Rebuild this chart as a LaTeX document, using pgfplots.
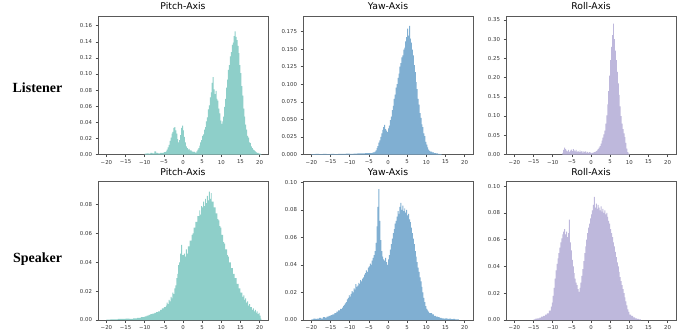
\documentclass[border=0pt]{standalone}
\usepackage{pgfplots}
\pgfplotsset{compat=1.18}
\usepackage{pgfplotstable}
\usepackage{fontspec}
\setmainfont{DejaVu Sans}
\newfontfamily\rowfont{Liberation Serif}
\definecolor{cpitch}{RGB}{142,207,201}
\definecolor{cyaw}{RGB}{128,175,210}
\definecolor{croll}{RGB}{190,184,220}

% Listener Pitch
\pgfplotstableread{
x y
-10 0.001
-9.5 0.0015
-9 0.001
-8.5 0.002
-8 0.0015
-7.5 0.004
-7 0.002
-6.5 0.0015
-6 0.002
-5.5 0.002
-5 0.003
-4.5 0.004
-4.25 0.006
-4.0 0.009
-3.75 0.012
-3.5 0.017
-3.25 0.021
-3.0 0.026
-2.75 0.028
-2.5 0.033
-2.25 0.034
-2.0 0.030
-1.75 0.026
-1.5 0.019
-1.25 0.015
-1.0 0.018
-0.75 0.024
-0.5 0.033
-0.25 0.036
0.0 0.030
0.25 0.022
0.5 0.015
0.75 0.010
1.0 0.008
1.25 0.006
1.5 0.007
1.75 0.005
2.0 0.005
2.25 0.004
2.5 0.003
2.75 0.004
3.0 0.003
3.25 0.002
3.5 0.004
3.75 0.006
4.0 0.008
4.25 0.011
4.5 0.015
4.75 0.018
5.0 0.023
5.25 0.025
5.5 0.031
5.75 0.034
6.0 0.041
6.25 0.046
6.5 0.056
6.75 0.061
7.0 0.071
7.25 0.077
7.5 0.089
7.75 0.096
8.0 0.081
8.25 0.075
8.5 0.079
8.75 0.069
9.0 0.067
9.25 0.057
9.5 0.051
9.75 0.042
10.0 0.038
10.25 0.041
10.5 0.047
10.75 0.059
11.0 0.069
11.25 0.083
11.5 0.093
11.75 0.105
12.0 0.111
12.25 0.122
12.5 0.127
12.75 0.136
13.0 0.139
13.25 0.147
13.5 0.153
13.75 0.146
14.0 0.142
14.25 0.135
14.5 0.126
14.75 0.111
15.0 0.101
15.25 0.085
15.5 0.073
15.75 0.057
16.0 0.047
16.25 0.037
16.5 0.031
16.75 0.023
17.0 0.021
17.25 0.015
17.5 0.014
17.75 0.010
18.0 0.008
18.25 0.006
18.5 0.005
18.75 0.004
19.0 0.003
19.25 0.002
19.5 0.002
19.75 0.001
20.0 0.001
20.25 0.0005
20.5 0
}\tLP

% Listener Yaw
\pgfplotstableread{
x y
-20 0.0005
-19 0.0008
-18 0.0005
-17 0.0008
-16 0.0006
-15 0.0008
-14 0.0006
-13 0.001
-12 0.0008
-11 0.0012
-10 0.001
-9 0.0012
-8 0.0015
-7 0.0015
-6 0.002
-5 0.002
-4 0.003
-3.5 0.004
-3.25 0.006
-3.0 0.009
-2.75 0.012
-2.5 0.017
-2.25 0.020
-2.0 0.025
-1.75 0.030
-1.5 0.035
-1.25 0.039
-1.0 0.042
-0.75 0.036
-0.5 0.034
-0.25 0.032
0.0 0.037
0.25 0.041
0.5 0.049
0.75 0.054
1.0 0.063
1.25 0.069
1.5 0.079
1.75 0.085
2.0 0.095
2.25 0.100
2.5 0.109
2.75 0.115
3.0 0.125
3.25 0.130
3.5 0.138
3.75 0.141
4.0 0.149
4.25 0.152
4.5 0.161
4.75 0.167
5.0 0.179
5.25 0.169
5.5 0.183
5.75 0.165
6.0 0.159
6.25 0.149
6.5 0.141
6.75 0.127
7.0 0.117
7.25 0.103
7.5 0.093
7.75 0.079
8.0 0.071
8.25 0.059
8.5 0.052
8.75 0.043
9.0 0.039
9.25 0.030
9.5 0.026
9.75 0.018
10.0 0.014
10.25 0.010
10.5 0.007
10.75 0.005
11.0 0.004
11.5 0.003
12.0 0.002
12.5 0.0015
13.0 0.001
13.5 0.0005
14.0 0
}\tLY

% Listener Roll
\pgfplotstableread{
x y
-7.5 0.004
-7.25 0.012
-7.0 0.018
-6.75 0.014
-6.5 0.010
-6.25 0.008
-6.0 0.012
-5.75 0.007
-5.5 0.010
-5.25 0.013
-5.0 0.009
-4.75 0.014
-4.5 0.011
-4.25 0.008
-4.0 0.012
-3.75 0.007
-3.5 0.009
-3.25 0.006
-3.0 0.011
-2.75 0.007
-2.5 0.009
-2.25 0.005
-2.0 0.008
-1.75 0.006
-1.5 0.009
-1.25 0.005
-1.0 0.007
-0.75 0.004
-0.5 0.006
-0.25 0.005
0.0 0.003
0.25 0.004
0.5 0.005
0.75 0.006
1.0 0.007
1.25 0.009
1.5 0.011
1.75 0.014
2.0 0.018
2.25 0.022
2.5 0.028
2.75 0.036
3.0 0.044
3.25 0.052
3.5 0.062
3.75 0.080
4.0 0.102
4.25 0.130
4.5 0.165
4.75 0.205
5.0 0.245
5.25 0.280
5.5 0.310
5.75 0.340
6.0 0.300
6.25 0.270
6.5 0.245
6.75 0.215
7.0 0.185
7.25 0.155
7.5 0.125
7.75 0.100
8.0 0.080
8.25 0.066
8.5 0.055
8.75 0.045
9.0 0.030
9.25 0.015
9.5 0.006
9.75 0.002
10.0 0
}\tLR

% Speaker Pitch
\pgfplotstableread{
x y
-20 0.0003
-19 0.0005
-18 0.0005
-17 0.0007
-16 0.0008
-15 0.001
-14 0.0008
-13 0.0012
-12 0.0015
-11 0.002
-10 0.0025
-9.5 0.003
-9 0.0035
-8.5 0.004
-8 0.0045
-7.5 0.005
-7 0.0055
-6.5 0.006
-6 0.007
-5.5 0.008
-5 0.009
-4.5 0.010
-4.25 0.012
-4.0 0.011
-3.75 0.014
-3.5 0.013
-3.25 0.016
-3.0 0.015
-2.75 0.019
-2.5 0.018
-2.25 0.022
-2.0 0.024
-1.75 0.029
-1.5 0.032
-1.25 0.038
-1.0 0.040
-0.75 0.046
-0.5 0.052
-0.25 0.045
0.0 0.045
0.25 0.046
0.5 0.044
0.75 0.049
1.0 0.046
1.25 0.051
1.5 0.051
1.75 0.055
2.0 0.055
2.25 0.059
2.5 0.060
2.75 0.064
3.0 0.064
3.25 0.068
3.5 0.068
3.75 0.072
4.0 0.072
4.25 0.076
4.5 0.073
4.75 0.079
5.0 0.078
5.25 0.082
5.5 0.079
5.75 0.084
6.0 0.081
6.25 0.086
6.5 0.083
6.75 0.089
7.0 0.084
7.25 0.088
7.5 0.082
7.75 0.082
8.0 0.078
8.25 0.078
8.5 0.074
8.75 0.074
9.0 0.070
9.25 0.069
9.5 0.065
9.75 0.064
10.0 0.059
10.25 0.059
10.5 0.054
10.75 0.053
11.0 0.049
11.25 0.049
11.5 0.045
11.75 0.044
12.0 0.040
12.25 0.040
12.5 0.036
12.75 0.036
13.0 0.032
13.25 0.032
13.5 0.029
13.75 0.029
14.0 0.025
14.25 0.025
14.5 0.022
14.75 0.022
15.0 0.019
15.25 0.019
15.5 0.016
15.75 0.017
16.0 0.014
16.25 0.015
16.5 0.012
16.75 0.013
17.0 0.010
17.25 0.011
17.5 0.009
17.75 0.009
18.0 0.007
18.25 0.008
18.5 0.006
18.75 0.007
19.0 0.005
19.25 0.006
19.5 0.004
19.75 0.005
20.0 0.003
20.25 0.001
20.5 0
}\tSP

% Speaker Yaw
\pgfplotstableread{
x y
-20 0.0005
-19.5 0.001
-19 0.0008
-18.5 0.001
-18 0.0015
-17.5 0.001
-17 0.002
-16.5 0.0018
-16 0.0025
-15.5 0.003
-15 0.0035
-14.5 0.004
-14 0.005
-13.5 0.006
-13 0.007
-12.5 0.008
-12.0 0.009
-11.75 0.010
-11.5 0.011
-11.25 0.012
-11.0 0.013
-10.75 0.015
-10.5 0.016
-10.25 0.018
-10.0 0.017
-9.75 0.019
-9.5 0.021
-9.25 0.020
-9.0 0.023
-8.75 0.022
-8.5 0.026
-8.25 0.024
-8.0 0.025
-7.75 0.027
-7.5 0.026
-7.25 0.029
-7.0 0.028
-6.75 0.030
-6.5 0.031
-6.25 0.033
-6.0 0.034
-5.75 0.036
-5.5 0.035
-5.25 0.038
-5.0 0.039
-4.75 0.041
-4.5 0.040
-4.25 0.043
-4.0 0.045
-3.75 0.047
-3.5 0.050
-3.25 0.056
-3.0 0.068
-2.75 0.082
-2.5 0.095
-2.25 0.072
-2.0 0.058
-1.75 0.050
-1.5 0.046
-1.25 0.044
-1.0 0.043
-0.75 0.045
-0.5 0.042
-0.25 0.040
0.0 0.044
0.25 0.047
0.5 0.051
0.75 0.055
1.0 0.059
1.25 0.063
1.5 0.066
1.75 0.070
2.0 0.072
2.25 0.075
2.5 0.079
2.75 0.077
3.0 0.082
3.25 0.085
3.5 0.080
3.75 0.083
4.0 0.079
4.25 0.081
4.5 0.078
4.75 0.080
5.0 0.076
5.25 0.077
5.5 0.073
5.75 0.071
6.0 0.067
6.25 0.063
6.5 0.059
6.75 0.055
7.0 0.050
7.25 0.046
7.5 0.042
7.75 0.038
8.0 0.035
8.25 0.031
8.5 0.028
8.75 0.024
9.0 0.020
9.25 0.016
9.5 0.013
9.75 0.010
10.0 0.008
10.25 0.007
10.5 0.006
10.75 0.005
11.0 0.005
11.5 0.004
12.0 0.003
12.5 0.0025
13.0 0.002
13.5 0.0015
14.0 0.0012
14.5 0.001
15.0 0.0012
15.5 0.0008
16.0 0.001
16.5 0.0006
17.0 0.0008
17.5 0.0005
18.0 0.0004
18.5 0
}\tSY

% Speaker Roll
\pgfplotstableread{
x y
-15 0.0005
-14.5 0.001
-14 0.0012
-13.5 0.0018
-13 0.0025
-12.5 0.003
-12 0.004
-11.5 0.005
-11 0.007
-10.5 0.010
-10.25 0.013
-10.0 0.018
-9.75 0.024
-9.5 0.031
-9.25 0.037
-9.0 0.042
-8.75 0.046
-8.5 0.050
-8.25 0.054
-8.0 0.058
-7.75 0.061
-7.5 0.064
-7.25 0.066
-7.0 0.068
-6.75 0.064
-6.5 0.066
-6.25 0.062
-6.0 0.065
-5.75 0.075
-5.5 0.058
-5.25 0.052
-5.0 0.045
-4.75 0.040
-4.5 0.035
-4.25 0.031
-4.0 0.028
-3.75 0.026
-3.5 0.023
-3.25 0.021
-3.0 0.024
-2.75 0.028
-2.5 0.033
-2.25 0.038
-2.0 0.044
-1.75 0.050
-1.5 0.055
-1.25 0.060
-1.0 0.065
-0.75 0.069
-0.5 0.072
-0.25 0.076
0.0 0.079
0.25 0.082
0.5 0.086
0.75 0.092
1.0 0.084
1.25 0.087
1.5 0.083
1.75 0.086
2.0 0.084
2.25 0.082
2.5 0.085
2.75 0.081
3.0 0.083
3.25 0.080
3.5 0.082
3.75 0.079
4.0 0.080
4.25 0.077
4.5 0.074
4.75 0.072
5.0 0.068
5.25 0.065
5.5 0.062
5.75 0.058
6.0 0.055
6.25 0.051
6.5 0.047
6.75 0.043
7.0 0.040
7.25 0.036
7.5 0.032
7.75 0.029
8.0 0.026
8.25 0.023
8.5 0.020
8.75 0.017
9.0 0.014
9.25 0.011
9.5 0.008
9.75 0.006
10.0 0.004
10.5 0.003
11.0 0.002
11.5 0.0012
12.0 0.0008
12.5 0.0005
13.0 0
}\tSR

\pgfplotsset{
  hist/.style={
    scale only axis, width=170pt, height=138.5pt,
    xmin=-22.2, xmax=22.2, ymin=0,
    xtick={-20,-15,-10,-5,0,5,10,15,20},
    xticklabels={−20,−15,−10,−5,0,5,10,15,20},
    axis line style={black!65, line width=0.7pt},
    tick style={black!70, line width=0.5pt},
    tick align=outside, major tick length=2.5pt,
    xtick pos=lower, ytick pos=left,
    tick label style={font=\fontsize{5.4}{6}\selectfont, text=black!80},
    /pgf/number format/assume math mode=true,
    scaled y ticks=false,
    yticklabel style={/pgf/number format/.cd, fixed, fixed zerofill, precision=2},
    xticklabel style={yshift=0.5pt},
    title style={font=\fontsize{9.3}{10}\selectfont, yshift=-3.5pt},
  },
  bars/.style={const plot mark left, draw=none, fill=#1},
}

\begin{document}
\begin{tikzpicture}
\useasboundingbox (0,0) rectangle (693pt,333pt);

\node[font=\rowfont\bfseries\fontsize{14}{16}\selectfont] at (37.5pt,245pt) {Listener};
\node[font=\rowfont\bfseries\fontsize{14}{16}\selectfont] at (37.5pt,74pt) {Speaker};

% Row 1
\begin{axis}[hist, at={(98pt,178.5pt)}, anchor=south west, title={Pitch-Axis},
  ymax=0.172, ytick={0,0.02,0.04,0.06,0.08,0.10,0.12,0.14,0.16}]
\addplot[bars=cpitch] table {\tLP} \closedcycle;
\end{axis}
\begin{axis}[hist, at={(303pt,178.5pt)}, anchor=south west, title={Yaw-Axis},
  ymax=0.197, ytick={0,0.025,0.05,0.075,0.1,0.125,0.15,0.175},
  yticklabel style={/pgf/number format/precision=3}]
\addplot[bars=cyaw] table {\tLY} \closedcycle;
\end{axis}
\begin{axis}[hist, at={(506pt,178.5pt)}, anchor=south west, title={Roll-Axis},
  ymax=0.36, ytick={0,0.05,0.1,0.15,0.2,0.25,0.3,0.35}]
\addplot[bars=croll] table {\tLR} \closedcycle;
\end{axis}

% Row 2
\begin{axis}[hist, at={(98pt,13pt)}, anchor=south west, title={Pitch-Axis},
  ymax=0.096, ytick={0,0.02,0.04,0.06,0.08}]
\addplot[bars=cpitch] table {\tSP} \closedcycle;
\end{axis}
\begin{axis}[hist, at={(303pt,13pt)}, anchor=south west, title={Yaw-Axis},
  ymax=0.1005, ytick={0,0.02,0.04,0.06,0.08,0.10}]
\addplot[bars=cyaw] table {\tSY} \closedcycle;
\end{axis}
\begin{axis}[hist, at={(506pt,13pt)}, anchor=south west, title={Roll-Axis},
  ymax=0.1035, ytick={0,0.02,0.04,0.06,0.08,0.10}]
\addplot[bars=croll] table {\tSR} \closedcycle;
\end{axis}
\end{tikzpicture}
\end{document}
